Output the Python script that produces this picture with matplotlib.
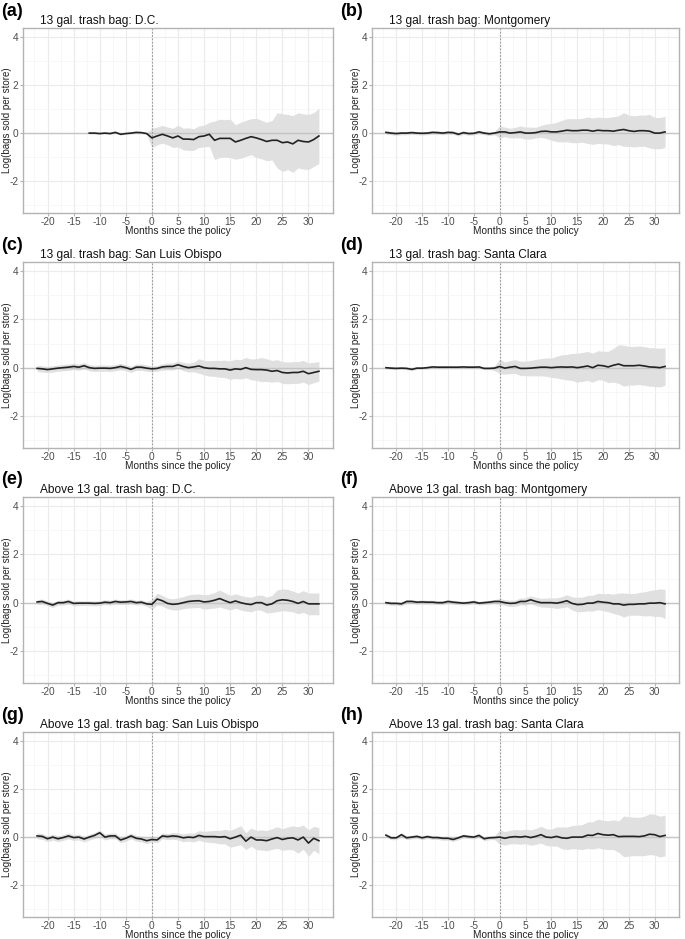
import numpy as np
import matplotlib
matplotlib.use('Agg')
import matplotlib.pyplot as plt

plt.rcParams['font.family'] = ['Liberation Sans', 'DejaVu Sans']
plt.rcParams['axes.unicode_minus'] = False

# Months since the policy
months_full = list(range(-22, 33))
months_dc13 = list(range(-12, 33))

# Panel metadata
panel_tags = ["(a)", "(b)", "(c)", "(d)", "(e)", "(f)", "(g)", "(h)"]
panel_titles = [
    "13 gal. trash bag: D.C.",
    "13 gal. trash bag: Montgomery",
    "13 gal. trash bag: San Luis Obispo",
    "13 gal. trash bag: Santa Clara",
    "Above 13 gal. trash bag: D.C.",
    "Above 13 gal. trash bag: Montgomery",
    "Above 13 gal. trash bag: San Luis Obispo",
    "Above 13 gal. trash bag: Santa Clara",
]

# Point estimates (log bags sold per store)
est_a = [0.0, 0.0, -0.02, 0.0, -0.02, 0.03, -0.05, -0.02, 0.0, 0.03, 0.02, -0.02,
         -0.2, -0.12, -0.05, -0.12, -0.2, -0.12, -0.25, -0.25, -0.27, -0.15, -0.12, -0.05,
         -0.3, -0.22, -0.22, -0.22, -0.37, -0.3, -0.22, -0.15, -0.2, -0.27, -0.35, -0.3,
         -0.3, -0.4, -0.37, -0.45, -0.3, -0.35, -0.37, -0.27, -0.12]
est_b = [0.03, 0.0, -0.02, 0.0, 0.0, 0.02, 0.0, -0.01, 0.0, 0.03, 0.02, 0.0, 0.03, 0.02,
         -0.05, 0.02, -0.02, -0.01, 0.05, 0.0, -0.03, 0.0,
         0.05, 0.05, 0.0, 0.02, 0.05, 0.0, 0.0, 0.02, 0.07, 0.08, 0.05, 0.05, 0.08, 0.12,
         0.1, 0.1, 0.12, 0.12, 0.08, 0.12, 0.1, 0.1, 0.08, 0.12, 0.15, 0.1, 0.07, 0.1,
         0.1, 0.08, 0.0, 0.0, 0.05]
est_c = [-0.03, -0.05, -0.08, -0.05, -0.02, 0.0, 0.02, 0.05, 0.02, 0.08, 0.0, -0.03,
         -0.02, -0.02, -0.03, 0.0, 0.05, 0.0, -0.07, 0.02, 0.02, -0.02,
         -0.05, -0.03, 0.03, 0.05, 0.05, 0.12, 0.05, 0.0, 0.03, 0.07, 0.0, -0.03, -0.03,
         -0.05, -0.05, -0.1, -0.05, -0.07, 0.0, -0.07, -0.08, -0.08, -0.1, -0.15, -0.12,
         -0.2, -0.22, -0.2, -0.2, -0.15, -0.25, -0.2, -0.15]
est_d = [0.0, -0.02, -0.03, -0.02, -0.03, -0.07, -0.02, -0.02, 0.0, 0.03, 0.02, 0.02,
         0.02, 0.02, 0.02, 0.03, 0.02, 0.02, 0.03, -0.03, -0.03, -0.02,
         0.05, -0.02, 0.02, 0.05, -0.03, -0.03, -0.02, 0.0, 0.02, 0.02, 0.0, 0.02, 0.03,
         0.02, 0.03, 0.0, 0.03, 0.07, 0.0, 0.1, 0.08, 0.03, 0.1, 0.15, 0.08, 0.08, 0.08,
         0.1, 0.07, 0.03, 0.02, 0.0, 0.05]
est_e = [0.03, 0.05, -0.03, -0.1, 0.0, 0.0, 0.05, -0.03, -0.02, -0.02, -0.02, -0.03,
         -0.02, 0.02, 0.0, 0.05, 0.02, 0.03, 0.05, 0.0, 0.02, -0.05,
         -0.07, 0.15, 0.08, -0.03, -0.07, -0.05, 0.0, 0.05, 0.07, 0.08, 0.03, 0.05, 0.1,
         0.17, 0.08, 0.0, 0.07, 0.0, -0.05, -0.08, 0.0, 0.0, -0.1, -0.05, 0.08, 0.12, 0.1,
         0.05, -0.03, 0.05, -0.05, -0.05, -0.05]
est_f = [0.0, -0.03, -0.03, -0.05, 0.05, 0.05, 0.02, 0.03, 0.02, 0.02, 0.0, 0.0, 0.05,
         0.02, 0.0, -0.02, 0.0, 0.03, -0.02, 0.0, 0.02, 0.05,
         0.05, 0.0, -0.03, -0.02, 0.05, 0.05, 0.12, 0.05, 0.0, 0.0, 0.0, -0.02, 0.02, 0.08,
         -0.03, -0.08, -0.07, -0.02, -0.02, 0.05, 0.02, 0.0, -0.05, -0.05, -0.1, -0.07,
         -0.07, -0.05, -0.05, -0.02, -0.02, 0.0, -0.05]
est_g = [0.05, 0.03, -0.07, 0.0, -0.07, -0.02, 0.05, -0.02, 0.0, -0.08, 0.0, 0.07, 0.18,
         0.0, 0.05, 0.05, -0.12, -0.05, 0.05, -0.05, -0.08, -0.15,
         -0.1, -0.12, 0.05, 0.02, 0.05, 0.03, -0.03, 0.0, -0.02, 0.07, 0.02, 0.02, 0.02,
         0.0, 0.02, -0.07, 0.0, 0.08, -0.17, 0.0, -0.12, -0.12, -0.15, -0.08, -0.02, -0.1,
         -0.05, -0.03, -0.12, 0.0, -0.25, -0.05, -0.15]
est_h = [0.08, -0.03, -0.03, 0.1, -0.03, 0.0, 0.03, -0.03, 0.02, -0.02, -0.02, -0.05,
         -0.05, -0.1, -0.03, 0.05, 0.02, 0.0, 0.07, -0.07, -0.03, -0.02,
         0.0, -0.05, 0.0, 0.02, 0.0, 0.03, -0.02, 0.03, 0.1, 0.0, -0.02, 0.03, -0.03,
         -0.05, 0.0, 0.0, 0.0, 0.08, 0.07, 0.15, 0.1, 0.08, 0.1, 0.02, 0.03, 0.03, 0.03,
         0.02, 0.05, 0.12, 0.1, 0.02, 0.07]

# Half-width of the 95% confidence band
ci_a = [0.03] * 12 + [0.4, 0.37, 0.37, 0.37, 0.4, 0.45, 0.45, 0.47, 0.45, 0.45, 0.45, 0.5,
                      0.8, 0.8, 0.78, 0.8, 0.72, 0.75, 0.75, 0.75, 0.82, 0.8, 0.8, 0.82,
                      1.15, 1.2, 1.15, 1.18, 1.15, 1.15, 1.15, 1.12, 1.15]
ci_b = [0.07] * 22 + [0.25, 0.2, 0.2, 0.22, 0.25, 0.25, 0.25, 0.22, 0.25, 0.3, 0.35,
                      0.4, 0.45, 0.48, 0.5, 0.5, 0.5, 0.55, 0.55, 0.55, 0.55, 0.55,
                      0.6, 0.6, 0.7, 0.65, 0.65, 0.65, 0.65, 0.7, 0.65, 0.65, 0.65]
ci_c = [0.13] * 22 + [0.12, 0.12, 0.13, 0.14, 0.15, 0.15, 0.17, 0.18, 0.2, 0.3, 0.3,
                      0.32, 0.33, 0.35, 0.36, 0.38, 0.4, 0.4, 0.42, 0.43, 0.45, 0.5,
                      0.47, 0.45, 0.45, 0.45, 0.45, 0.45, 0.45, 0.45, 0.45, 0.42, 0.4]
ci_d = [0.05] * 21 + [0.1] + [0.3, 0.25, 0.27, 0.28, 0.3, 0.3, 0.32, 0.34, 0.36, 0.38,
                              0.4, 0.45, 0.5, 0.53, 0.56, 0.6, 0.6, 0.6, 0.6, 0.6, 0.6,
                              0.65, 0.7, 0.8, 0.85, 0.8, 0.8, 0.8, 0.8, 0.8, 0.8, 0.8, 0.78]
ci_e = [0.1] * 22 + [0.2, 0.25, 0.22, 0.22, 0.23, 0.25, 0.25, 0.27, 0.28, 0.28, 0.3,
                     0.3, 0.32, 0.35, 0.33, 0.3, 0.3, 0.3, 0.3, 0.3, 0.3, 0.32, 0.33,
                     0.35, 0.45, 0.45, 0.45, 0.43, 0.43, 0.45, 0.45, 0.45, 0.45]
ci_f = [0.08] * 22 + [0.12, 0.12, 0.13, 0.13, 0.14, 0.15, 0.16, 0.17, 0.18, 0.19, 0.2,
                      0.22, 0.23, 0.25, 0.27, 0.3, 0.3, 0.32, 0.33, 0.34, 0.35, 0.38,
                      0.4, 0.45, 0.5, 0.45, 0.45, 0.47, 0.5, 0.52, 0.55, 0.57, 0.6]
ci_g = [0.12] * 22 + [0.1, 0.12, 0.12, 0.13, 0.14, 0.15, 0.16, 0.17, 0.18, 0.2, 0.22,
                      0.24, 0.26, 0.28, 0.3, 0.35, 0.37, 0.4, 0.35, 0.38, 0.4, 0.42,
                      0.42, 0.43, 0.45, 0.45, 0.47, 0.5, 0.55, 0.5, 0.55, 0.5, 0.55]
ci_h = [0.08] * 22 + [0.3, 0.28, 0.28, 0.3, 0.3, 0.3, 0.32, 0.33, 0.35, 0.35, 0.35,
                      0.4, 0.45, 0.47, 0.48, 0.5, 0.52, 0.55, 0.57, 0.6, 0.6, 0.6, 0.62,
                      0.65, 0.85, 0.82, 0.8, 0.8, 0.82, 0.85, 0.85, 0.85, 0.85]

x_ticks = [-20, -15, -10, -5, 0, 5, 10, 15, 20, 25, 30]
y_ticks = [-2, 0, 2, 4]

panels = [
    (months_dc13, est_a, ci_a),
    (months_full, est_b, ci_b),
    (months_full, est_c, ci_c),
    (months_full, est_d, ci_d),
    (months_full, est_e, ci_e),
    (months_full, est_f, ci_f),
    (months_full, est_g, ci_g),
    (months_full, est_h, ci_h),
]

W, H = 685, 939
fig = plt.figure(figsize=(W / 100, H / 100), dpi=100)

col_lr = [(23, 333), (372, 679)]
row_tb = [(28, 213), (262, 448), (497, 683), (732, 917)]

for i, (x, est, ci) in enumerate(panels):
    row, col = divmod(i, 2)
    l, r = col_lr[col]
    t, b = row_tb[row]
    ax = fig.add_axes([l / W, 1 - b / H, (r - l) / W, (b - t) / H])

    x = np.array(x)
    est = np.array(est)
    ci = np.array(ci)

    ax.set_xlim(-24.7, 34.7)
    ax.set_ylim(-3.33, 4.38)
    ax.set_xticks(x_ticks)
    ax.set_yticks(y_ticks)
    ax.set_xticks(np.arange(-22.5, 33, 5), minor=True)
    ax.set_yticks([-3, -1, 1, 3], minor=True)
    ax.grid(which='major', color='#ebebeb', linewidth=0.8)
    ax.grid(which='minor', color='#f4f4f4', linewidth=0.5)
    ax.set_axisbelow(True)
    ax.tick_params(which='both', length=2, color='#b3b3b3', labelsize=7.3,
                   labelcolor='#4d4d4d', pad=1.2)
    ax.tick_params(which='minor', length=0)
    for s in ax.spines.values():
        s.set_color('#b3b3b3')
        s.set_linewidth(1.0)

    ax.fill_between(x, est - ci, est + ci, color='#e0e0e0', linewidth=0, zorder=2)
    ax.axhline(0, color='#c4c4c4', linewidth=1.0, zorder=2.5)
    ax.axvline(0, color='#999999', linewidth=0.8, linestyle=(0, (1.5, 1.5)), zorder=2.5)
    ax.plot(x, est, color='#222222', linewidth=1.2, zorder=3)

    ax.set_xlabel("Months since the policy", fontsize=7.3, color='#222222')
    ax.xaxis.set_label_coords(0.5, -0.068)
    ax.set_ylabel("Log(bags sold per store)", fontsize=7, color='#222222')
    ax.yaxis.set_label_coords(-0.036, 0.5)
    ax.set_title(panel_titles[i], fontsize=8.6, loc='left', x=0.055, pad=3, color='#111111')

    fig.text((l - 22 if col == 0 else l - 32) / W, 1 - 11 / H - (t - 28) / H,
             panel_tags[i], fontsize=13, fontweight='bold', va='center', ha='left')

fig.savefig("out.png", dpi=100, facecolor='white')
